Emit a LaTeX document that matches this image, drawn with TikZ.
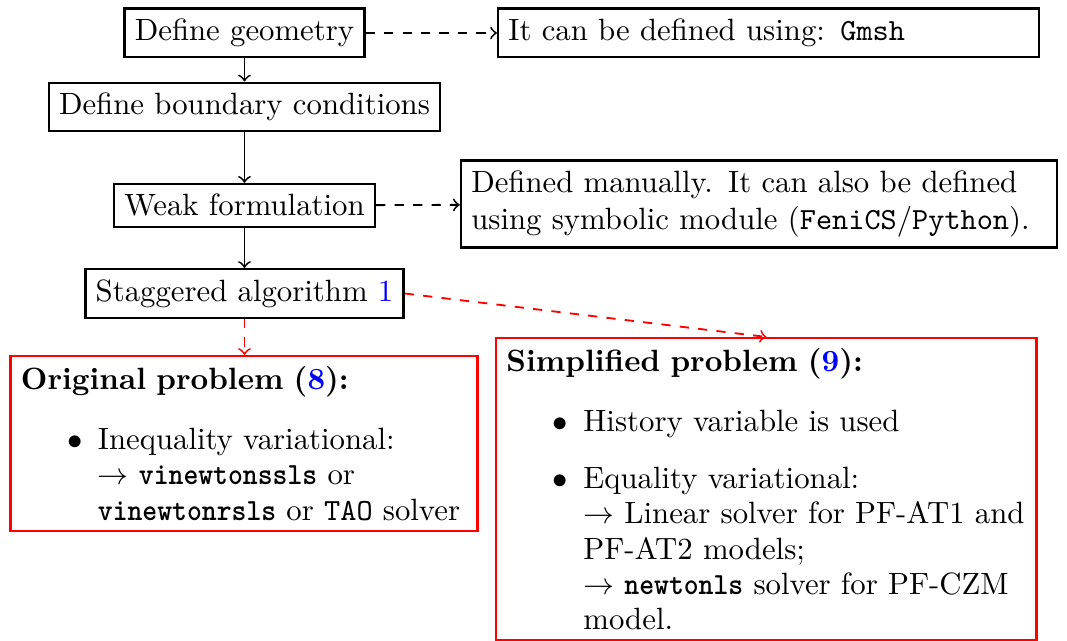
\documentclass[tikz,border=0pt]{standalone}
\usepackage{graphicx}
\usetikzlibrary{calc}
\renewcommand{\labelitemi}{$\bullet$}
\newcommand{\btt}[1]{\scalebox{0.92}[1]{\texttt{\textbf{#1}}}}
\begin{document}
\begin{tikzpicture}[x=0.325pt,y=-0.325pt,
  blackbox/.style={draw, thick, inner sep=3.33pt},
  widebox/.style={blackbox, align=left},
  redbox/.style={draw=red, thick, inner sep=3.33pt, align=left, anchor=north west,
    font=\fontsize{10pt}{11.5pt}\selectfont},
  conn/.style={->, semithick}]
\useasboundingbox (0,0) rectangle (1067,641);

\node[blackbox] (geo) at (244.5,33) {Define geometry};
\node[blackbox] (bc) at (244.5,107) {Define boundary conditions};
\node[blackbox] (weak) at (244.5,205.5) {Weak formulation};
\node[blackbox] (stag) at (244.5,293.5) {Staggered algorithm \textcolor{blue}{1}};

\node[widebox, text width=169pt] (gmsh) at (768.5,33) {It can be defined using: \texttt{Gmsh}};
\node[widebox, text width=187pt] (man) at (759,204) {Defined manually. It can also be defined\\using symbolic module (\texttt{FeniCS}/\texttt{Python}).};

\node[redbox, text width=145pt] (orig) at (9.5,355) {\textbf{Original problem (\textcolor{blue}{8}):}
\begin{itemize}\setlength{\topsep}{7.5pt}\setlength{\itemsep}{3pt}
\item Inequality variational:\\
$\rightarrow$ \btt{vinewtonssls} or\\
\mbox{\btt{vinewtonrsls} or \texttt{TAO} solver}
\end{itemize}};

\node[redbox, text width=169pt] (simp) at (495,337) {\textbf{Simplified problem (\textcolor{blue}{9}):}
\begin{itemize}\setlength{\itemsep}{3pt}
\item History variable is used
\item Equality variational:\\
$\rightarrow$ Linear solver for PF-AT1 and\\
PF-AT2 models;\\
$\rightarrow$ \btt{newtonls} solver for PF-CZM\\
model.
\end{itemize}};

\draw[conn] (geo) -- (bc);
\draw[conn] (bc) -- (weak);
\draw[conn] (weak) -- (stag);
\draw[conn, dashed] (geo) -- (gmsh);
\draw[conn, dashed] (weak) -- (man);
\draw[conn, dashed, red] (stag.south) -- (stag.south |- orig.north);
\draw[conn, dashed, red] (stag.east) -- (simp.north);
\end{tikzpicture}
\end{document}
